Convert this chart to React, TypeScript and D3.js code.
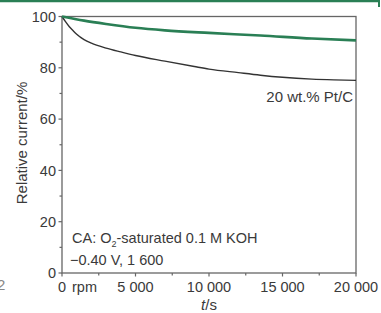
import React from "react";
import * as d3 from "d3";

// t/s sample points and relative current (%)
const blackTime = [0, 250, 500, 750, 1000, 1500, 2000, 3000, 4000, 5000, 7000, 9000, 10000, 12000, 13500, 15000, 17000, 18500, 20000];
const blackValues = [100, 97.9, 96.0, 94.5, 93.1, 91.0, 89.6, 87.7, 86.2, 84.8, 82.6, 80.5, 79.5, 78.1, 77.1, 76.3, 75.6, 75.3, 75.1];
const greenTime = [0, 1500, 3000, 5000, 7000, 10000, 13500, 17000, 20000];
const greenValues = [100, 98.4, 97.1, 95.6, 94.6, 93.6, 92.6, 91.4, 90.7];

const xTicks = [0, 5000, 10000, 15000, 20000];
const xTickLabels = ["0", "5 000", "10 000", "15 000", "20 000"];
const xMinorTicks = [2500, 7500, 12500, 17500];
const yTicks = [0, 20, 40, 60, 80, 100];
const yMinorTicks = [10, 30, 50, 70, 90];

const W = 381;
const H = 313;
const axisColor = "#666";
const textColor = "#3a3a3a";
const green = "#2a7f55";
const font = "'Liberation Sans', Arial, sans-serif";

const App = () => {
  const x = d3.scaleLinear().domain([0, 20000]).range([62, 356]);
  const y = d3.scaleLinear().domain([0, 100]).range([273, 16.5]);

  const line = d3
    .line<[number, number]>()
    .x(d => x(d[0]))
    .y(d => y(d[1]))
    .curve(d3.curveMonotoneX);

  const blackPts = blackTime.map((t, i) => [t, blackValues[i]] as [number, number]);
  const greenPts = greenTime.map((t, i) => [t, greenValues[i]] as [number, number]);

  return (
    <svg
      width={W}
      height={H}
      style={{ position: "absolute", left: 0, top: 0, background: "#fff" }}
      fontFamily={font}
    >
      {/* figure frame remnants */}
      <line x1={0} x2={379} y1={1} y2={1} stroke={green} strokeWidth={2.5} />
      <line x1={379} x2={379} y1={0} y2={7} stroke={green} strokeWidth={2} />
      <text x={-3} y={290} fontSize={15} fill="#888">2</text>

      {/* box */}
      <rect
        x={x(0)}
        y={y(100)}
        width={x(20000) - x(0)}
        height={y(0) - y(100)}
        fill="none"
        stroke={axisColor}
        strokeWidth={1.3}
      />

      {/* y ticks */}
      {yTicks.map(v => (
        <g key={"y" + v}>
          <line x1={x(0) - 3.5} x2={x(0)} y1={y(v)} y2={y(v)} stroke={axisColor} strokeWidth={1.2} />
          <text x={x(0) - 6} y={y(v)} dy="0.36em" textAnchor="end" fontSize={14.5} fill={textColor}>
            {v}
          </text>
        </g>
      ))}
      {yMinorTicks.map(v => (
        <line key={"ym" + v} x1={x(0) - 2.5} x2={x(0)} y1={y(v)} y2={y(v)} stroke={axisColor} strokeWidth={1.2} />
      ))}

      {/* x ticks */}
      {xTicks.map((t, i) => (
        <g key={"x" + t}>
          <line x1={x(t)} x2={x(t)} y1={y(0)} y2={y(0) + 3.5} stroke={axisColor} strokeWidth={1.2} />
          <text x={x(t)} y={292} textAnchor="middle" fontSize={14.5} fill={textColor}>
            {xTickLabels[i]}
          </text>
        </g>
      ))}
      {xMinorTicks.map(t => (
        <line key={"xm" + t} x1={x(t)} x2={x(t)} y1={y(0)} y2={y(0) + 2.5} stroke={axisColor} strokeWidth={1.2} />
      ))}

      {/* curves */}
      <path d={line(blackPts) || ""} fill="none" stroke="#333" strokeWidth={1.4} />
      <path d={line(greenPts) || ""} fill="none" stroke={green} strokeWidth={2.6} />

      {/* axis titles */}
      <text
        transform={`translate(27, ${143}) rotate(-90)`}
        textAnchor="middle"
        fontSize={15}
        fill={textColor}
      >
        Relative current/%
      </text>
      <text x={x(10000)} y={310} textAnchor="middle" fontSize={15} fill={textColor}>
        <tspan fontStyle="italic">t</tspan>/s
      </text>

      {/* annotations */}
      <text x={353} y={102} textAnchor="end" fontSize={15} fill={textColor}>
        20 wt.% Pt/C
      </text>
      <text x={72} y={243} fontSize={14.5} fill={textColor}>
        CA: O<tspan fontSize={9} dy={4}>2</tspan>
        <tspan dy={-4}>-saturated 0.1 M KOH</tspan>
      </text>
      <text x={70} y={265} fontSize={14.5} fill={textColor}>
        −0.40 V, 1 600
      </text>
      <text x={72} y={292} fontSize={14.5} fill={textColor}>
        rpm
      </text>
    </svg>
  );
};

export default App;
